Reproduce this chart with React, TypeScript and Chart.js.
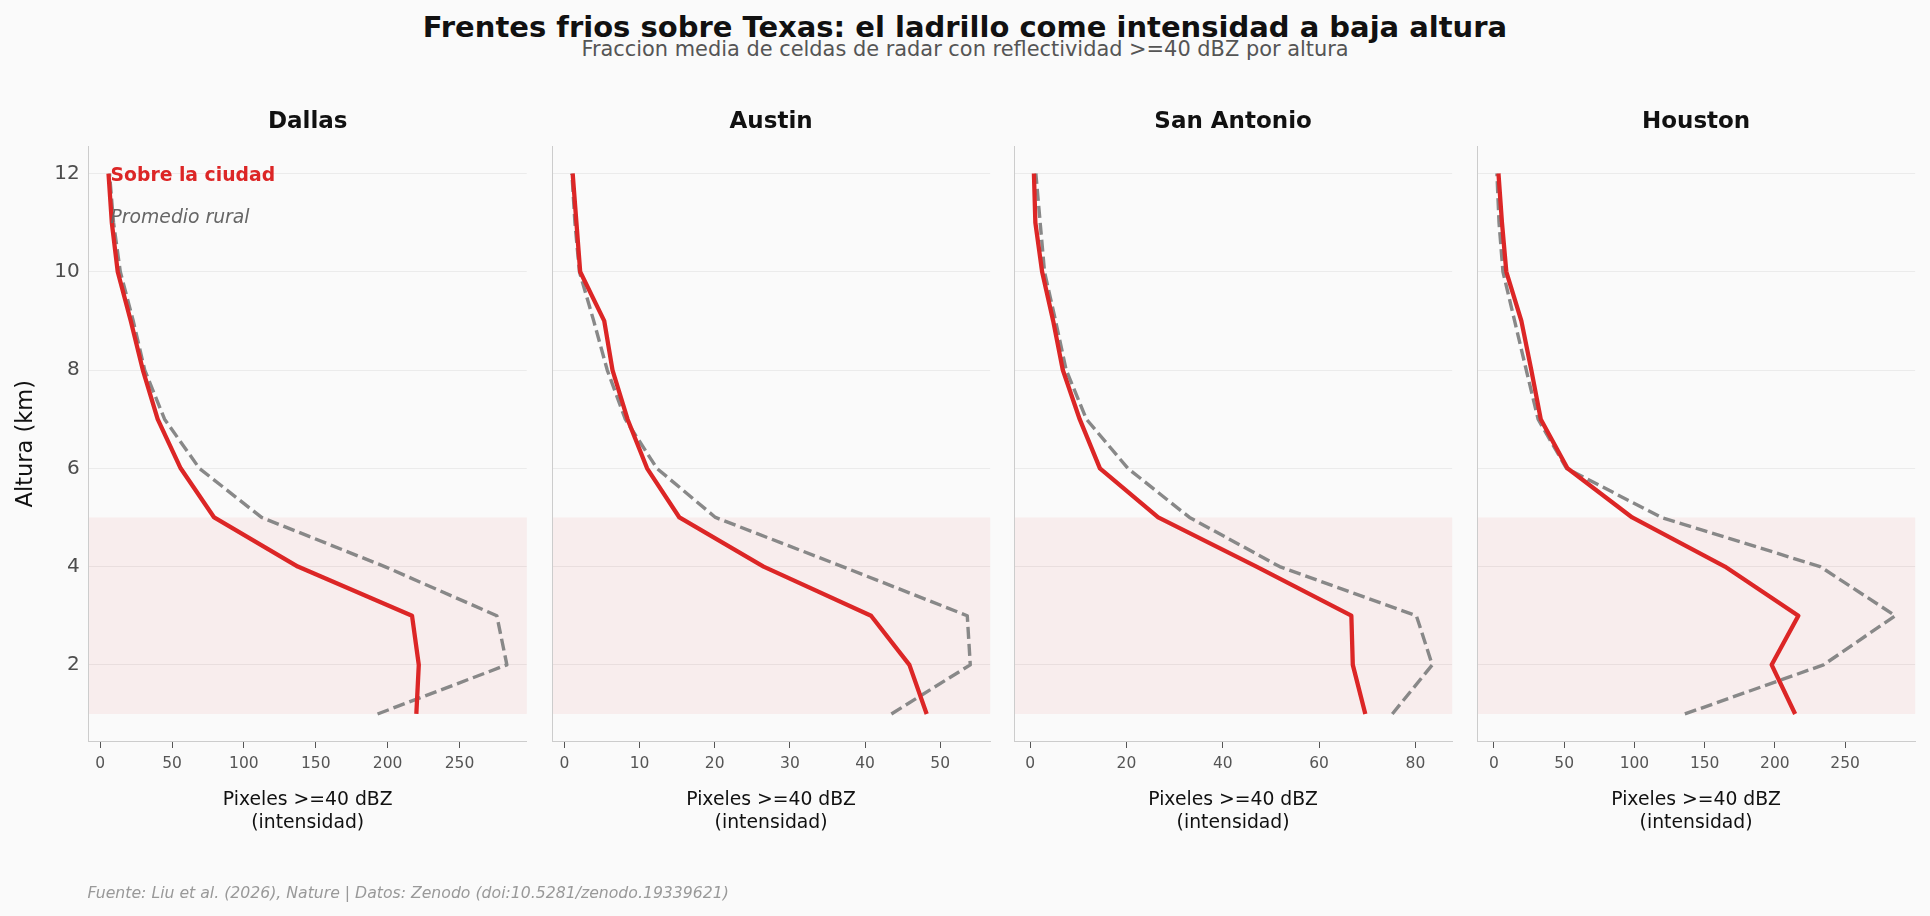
import React, { useEffect, useRef } from "react";
import { Chart, registerables } from "chart.js";

Chart.register(...registerables);

const FONT = "'DejaVu Sans', 'Liberation Sans', sans-serif";

// Altitudes sampled (km)
const heights = [1, 2, 3, 4, 5, 6, 7, 8, 9, 10, 11, 12];
const altitudeTicks = [2, 4, 6, 8, 10, 12];
const lowLayer = [1, 5];

// Pixels >= 40 dBZ per altitude (1 km -> 12 km)
const dallasCity = [220, 221.7, 217, 137.5, 79.3, 56.0, 40.0, 29.7, 21.3, 12.2, 8.1, 5.8];
const dallasRural = [193, 283, 276, 198, 112.3, 69, 44.8, 31, 23, 14, 9.3, 6.5];
const austinCity = [48.2, 45.9, 40.8, 26.5, 15.3, 11.0, 8.4, 6.4, 5.3, 2.1, 1.6, 1.1];
const austinRural = [43.5, 54.0, 53.6, 37, 20.1, 12.3, 8.1, 5.7, 3.9, 2.0, 1.4, 1.0];
const sanAntonioCity = [69.6, 67.0, 66.7, 47, 26.6, 14.5, 10.3, 6.8, 4.8, 2.5, 1.1, 0.8];
const sanAntonioRural = [75.2, 83.5, 80.2, 51.8, 33.1, 20.3, 11.7, 7.5, 5.3, 3.0, 2.1, 1.2];
const houstonCity = [214.4, 197.7, 216.7, 164.4, 98.4, 52.3, 33.3, 26.6, 19.5, 8.8, 5.7, 3.2];
const houstonRural = [135.9, 234.6, 285.7, 232.2, 119.3, 51.6, 31.4, 23, 14.7, 6.4, 3.6, 2.1];

const dallasTicks = [0, 50, 100, 150, 200, 250];
const austinTicks = [0, 10, 20, 30, 40, 50];
const sanAntonioTicks = [0, 20, 40, 60, 80];
const houstonTicks = [0, 50, 100, 150, 200, 250];

const cityNames = ["Dallas", "Austin", "San Antonio", "Houston"];

const TITLE = "Frentes frios sobre Texas: el ladrillo come intensidad a baja altura";
const SUBTITLE = "Fraccion media de celdas de radar con reflectividad >=40 dBZ por altura";
const X_TITLE = ["Pixeles >=40 dBZ", "(intensidad)"];
const Y_TITLE = "Altura (km)";
const CITY_LABEL = "Sobre la ciudad";
const RURAL_LABEL = "Promedio rural";
const SOURCE = "Fuente: Liu et al. (2026), Nature | Datos: Zenodo (doi:10.5281/zenodo.19339621)";

const RED = "#dc2626";
const GRAY = "#888888";
const BG = "#fafafa";

const panels = [
  { name: cityNames[0], city: dallasCity, rural: dallasRural, ticks: dallasTicks },
  { name: cityNames[1], city: austinCity, rural: austinRural, ticks: austinTicks },
  { name: cityNames[2], city: sanAntonioCity, rural: sanAntonioRural, ticks: sanAntonioTicks },
  { name: cityNames[3], city: houstonCity, rural: houstonRural, ticks: houstonTicks },
];

// Page layout (px)
const PAGE_W = 1930;
const PAGE_H = 916;
const PLOT_TOP = 146.5;
const PLOT_BOTTOM = 741;
const PLOT_LEFTS = [88.6, 551.7, 1014.3, 1477.3];
const PLOT_W = 438.2;
const X_AXIS_H = 50;

function paddedRange(values: number[]): [number, number] {
  const lo = Math.min(...values);
  const hi = Math.max(...values);
  const m = (hi - lo) * 0.05;
  return [lo - m, hi + m];
}

function Panel({ idx }: { idx: number }) {
  const ref = useRef<HTMLCanvasElement>(null);
  const p = panels[idx];
  const isFirst = idx === 0;
  const yW = isFirst ? PLOT_LEFTS[0] : 12;
  const canvasLeft = PLOT_LEFTS[idx] - yW;
  const canvasW = Math.ceil(yW + PLOT_W + 24);
  const rightPad = canvasW - yW - PLOT_W;

  useEffect(() => {
    const [xmin, xmax] = paddedRange([...p.city, ...p.rural]);
    const [ymin, ymax] = paddedRange(heights);

    const decor = {
      id: "panelDecor",
      beforeDraw(chart: any) {
        const { ctx, chartArea: a, scales } = chart;
        const yTop = scales.y.getPixelForValue(lowLayer[1]);
        const yBot = scales.y.getPixelForValue(lowLayer[0]);
        ctx.save();
        ctx.fillStyle = "rgba(220, 38, 38, 0.06)";
        ctx.fillRect(a.left, yTop, a.right - a.left, yBot - yTop);
        ctx.restore();
      },
      afterDraw(chart: any) {
        const { ctx, chartArea: a } = chart;
        const cx = (a.left + a.right) / 2;
        ctx.save();
        ctx.textAlign = "center";
        ctx.textBaseline = "middle";
        ctx.fillStyle = "#111111";
        ctx.font = `bold 23px ${FONT}`;
        ctx.fillText(p.name, cx, 122);
        ctx.font = `18.8px ${FONT}`;
        ctx.fillText(X_TITLE[0], cx, 800.5);
        ctx.fillText(X_TITLE[1], cx, 823);
        if (isFirst) {
          const w = a.right - a.left;
          const h = a.bottom - a.top;
          ctx.textAlign = "left";
          ctx.fillStyle = RED;
          ctx.font = `bold 18.8px ${FONT}`;
          ctx.fillText(CITY_LABEL, a.left + 0.05 * w, a.bottom - 0.95 * h);
          ctx.fillStyle = "#666666";
          ctx.font = `italic 18.8px ${FONT}`;
          ctx.fillText(RURAL_LABEL, a.left + 0.05 * w, a.bottom - 0.88 * h);
          ctx.save();
          ctx.translate(26, (a.top + a.bottom) / 2);
          ctx.rotate(-Math.PI / 2);
          ctx.textAlign = "center";
          ctx.fillStyle = "#111111";
          ctx.font = `22.5px ${FONT}`;
          ctx.fillText(Y_TITLE, 0, 0);
          ctx.restore();
        }
        ctx.restore();
      },
    };

    const chart = new Chart(ref.current as HTMLCanvasElement, {
      type: "line",
      data: {
        datasets: [
          {
            label: CITY_LABEL,
            data: heights.map((h, i) => ({ x: p.city[i], y: h })),
            borderColor: RED,
            borderWidth: 4.3,
            borderJoinStyle: "round",
            pointRadius: 0,
            fill: false,
            tension: 0,
            order: 0,
          },
          {
            label: RURAL_LABEL,
            data: heights.map((h, i) => ({ x: p.rural[i], y: h })),
            borderColor: GRAY,
            borderWidth: 3.4,
            borderDash: [12, 5],
            borderJoinStyle: "round",
            pointRadius: 0,
            fill: false,
            tension: 0,
            order: 1,
          },
        ],
      },
      options: {
        responsive: false,
        animation: false,
        events: [],
        layout: {
          padding: { top: PLOT_TOP, bottom: PAGE_H - PLOT_BOTTOM - X_AXIS_H, left: 0, right: rightPad },
        },
        plugins: {
          legend: { display: false },
          tooltip: { enabled: false },
          title: { display: false },
        },
        scales: {
          x: {
            type: "linear",
            min: xmin,
            max: xmax,
            afterBuildTicks: (s: any) => {
              s.ticks = p.ticks.map((v) => ({ value: v }));
            },
            afterFit: (s: any) => {
              s.height = X_AXIS_H;
            },
            grid: { drawOnChartArea: false, drawTicks: true, tickLength: 7, tickColor: "#555555", tickWidth: 1 },
            border: { color: "#cccccc", width: 1 },
            ticks: { color: "#555555", font: { family: FONT, size: 15.5 }, padding: 7, maxRotation: 0, autoSkip: false },
          },
          y: {
            type: "linear",
            min: ymin,
            max: ymax,
            afterBuildTicks: (s: any) => {
              s.ticks = altitudeTicks.map((v) => ({ value: v }));
            },
            afterFit: (s: any) => {
              s.width = yW;
            },
            grid: { color: "rgba(0,0,0,0.06)", drawTicks: false, lineWidth: 1 },
            border: { color: "#cccccc", width: 1 },
            ticks: { display: isFirst, color: "#4d4d4d", font: { family: FONT, size: 20 }, padding: 9 },
          },
        },
      } as any,
      plugins: [decor],
    });
    return () => chart.destroy();
  }, []);

  return (
    <canvas
      ref={ref}
      width={canvasW}
      height={PAGE_H}
      style={{ position: "absolute", left: canvasLeft, top: 0, width: canvasW, height: PAGE_H }}
    />
  );
}

const textBase: React.CSSProperties = {
  position: "absolute",
  whiteSpace: "nowrap",
  lineHeight: 1,
  fontFamily: FONT,
};

export default function App() {
  return (
    <div
      style={{
        position: "fixed",
        left: 0,
        top: 0,
        width: PAGE_W,
        height: PAGE_H,
        background: BG,
        overflow: "hidden",
      }}
    >
      <div
        style={{
          ...textBase,
          left: 0,
          width: PAGE_W,
          textAlign: "center",
          top: 27,
          transform: "translate(0,-50%)",
          fontSize: 29,
          fontWeight: "bold",
          color: "#111111",
        }}
      >
        {TITLE}
      </div>
      <div
        style={{
          ...textBase,
          left: 0,
          width: PAGE_W,
          textAlign: "center",
          top: 49,
          transform: "translate(0,-50%)",
          fontSize: 20.9,
          color: "#555555",
        }}
      >
        {SUBTITLE}
      </div>
      {panels.map((_, i) => (
        <Panel key={i} idx={i} />
      ))}
      <div
        style={{
          ...textBase,
          left: 87.4,
          top: 893,
          transform: "translate(0,-50%)",
          fontSize: 15.7,
          fontStyle: "italic",
          color: "#999999",
        }}
      >
        {SOURCE}
      </div>
    </div>
  );
}
